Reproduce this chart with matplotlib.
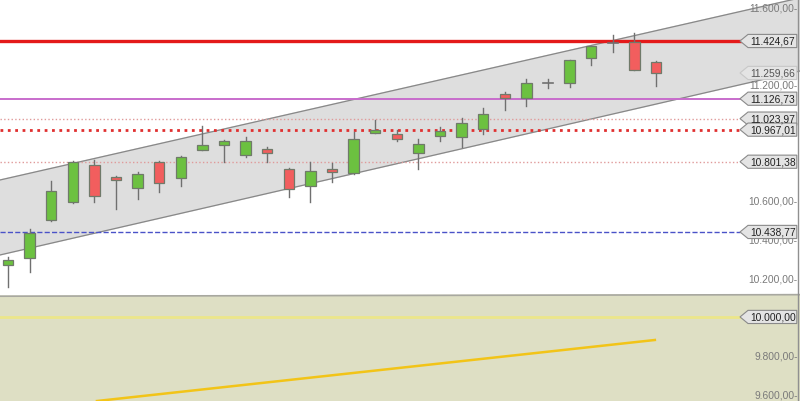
import numpy as np
import matplotlib.pyplot as plt
from matplotlib.patches import Polygon, Rectangle
import matplotlib.transforms as mtrans

plt.rcParams['font.family'] = ['Liberation Sans', 'DejaVu Sans']

# daily candles
opens = [10270, 10305, 10501, 10594, 10785, 10723, 10666, 10800, 10718, 10862,
         10888, 10836, 10867, 10764, 10676, 10764, 10743, 10950, 10945, 10847,
         10934, 10929, 10971, 11151, 11131, 11208, 11208, 11337, 11414, 11420, 11316]
closes = [10296, 10434, 10650, 10800, 10625, 10707, 10738, 10692, 10826, 10888,
          10909, 10909, 10847, 10661, 10754, 10749, 10919, 10965, 10919, 10893,
          10960, 11001, 11048, 11131, 11208, 11208, 11327, 11399, 11414, 11275, 11259.66]
highs = [10310, 10454, 10702, 10805, 10811, 10728, 10749, 10805, 10831, 10986,
         10913, 10929, 10878, 10769, 10800, 10795, 10955, 11017, 10965, 10919,
         10981, 11027, 11079, 11162, 11229, 11229, 11327, 11399, 11456, 11466, 11322]
lows = [10155, 10232, 10495, 10590, 10594, 10558, 10609, 10645, 10676, 10860,
        10800, 10826, 10800, 10620, 10594, 10697, 10740, 10948, 10909, 10764,
        10909, 10878, 10945, 11069, 11089, 11182, 11187, 11301, 11368, 11275, 11192]

# horizontal levels: value, color, style, width
levels = [(11424.67, '#e41a1a', '-', 2.4),
          (11126.73, '#c86ccc', '-', 1.4),
          (11023.97, '#e09a9a', ':', 1.0),
          (10967.01, '#e03030', ':', 2.0),
          (10801.38, '#e09a9a', ':', 1.0),
          (10438.77, '#4a52c8', '--', 1.0),
          (10000.00, '#ece68a', '-', 2.0)]
label_levels = [11424.67, 11259.66, 11126.73, 11023.97, 10967.01, 10801.38, 10438.77, 10000.00]
# only the axis ticks the chart still shows (others sit under the price boxes)
tick_values = [9600, 9800, 10200, 10400, 10600, 11200, 11600]

# channels (index, price)
upper_ch = ([-0.37, 36.67], [10707, 11647])
lower_ch = ([-0.37, 36.67], [10320, 11270])
base_ch = ([-0.37, 36.67], [10107, 10115])
trend = ([4.12, 29.95], [9566, 9881])


def fmt(v):
    s = f'{v:,.2f}'
    return s.replace(',', 'X').replace('.', ',').replace('X', '.')


fig = plt.figure(figsize=(8, 4.02), dpi=100)
ax = fig.add_axes([0, 0, 1, 1])
ax.set_xlim(-0.37, 36.67)
ax.set_ylim(9566, 11641.5)
ax.axis('off')

# lower tan zone
ax.fill_between(base_ch[0], base_ch[1], 9500, color='#dedfc4', zorder=0)
ax.plot(base_ch[0], base_ch[1], color='#a8a8a0', lw=1.2, zorder=1)

# grey channel
ax.fill_between(upper_ch[0], lower_ch[1], upper_ch[1], color='#dedede', zorder=0)
ax.plot(*upper_ch, color='#888888', lw=0.9, zorder=1)
ax.plot(*lower_ch, color='#888888', lw=0.9, zorder=1)

ax.plot(*trend, color='#f2c418', lw=1.8, zorder=2)

tr = mtrans.blended_transform_factory(ax.transAxes, ax.transData)
for v, c, ls, w in levels:
    ax.plot([0, 0.925], [v, v], transform=tr, color=c, ls=ls, lw=w, zorder=2)

# candles
x = np.arange(len(opens))
bw = 0.48
for i in x:
    o, c, h, l = opens[i], closes[i], highs[i], lows[i]
    ax.plot([i, i], [l, h], color='#707070', lw=1.0, zorder=3)
    if abs(c - o) < 1:
        ax.plot([i - bw / 2, i + bw / 2], [o, o], color='#707070', lw=1.2, zorder=4)
        continue
    col = '#6cc140' if c > o else '#f25e5e'
    ax.add_patch(Rectangle((i - bw / 2, min(o, c)), bw, abs(c - o),
                           facecolor=col, edgecolor='#707a6a', lw=0.9, zorder=4))

# right axis tick labels
for t in tick_values:
    ax.text(0.997, t, fmt(t) + '-', transform=tr, ha='right', va='center',
            fontsize=7.4, color='#7a7a7a', zorder=5)

# price labels with arrow boxes
hh = 34
for v in label_levels:
    light = v == 11259.66
    pts = [(0.925, v), (0.935, v + hh), (0.996, v + hh), (0.996, v - hh), (0.935, v - hh)]
    ax.add_patch(Polygon(pts, closed=True, transform=tr, facecolor='#e4e4e4',
                         edgecolor='#c8c8c8' if light else '#8a8a8a', lw=0.8, zorder=6))
    ax.text(0.966, v, fmt(v), transform=tr, ha='center', va='center',
            fontsize=7.4, color='#555555' if light else '#222222', zorder=7)

ax.plot([0.998, 0.998], [0, 1], transform=ax.transAxes, color='#909090', lw=1, zorder=8)

fig.savefig('out.png', dpi=100)
